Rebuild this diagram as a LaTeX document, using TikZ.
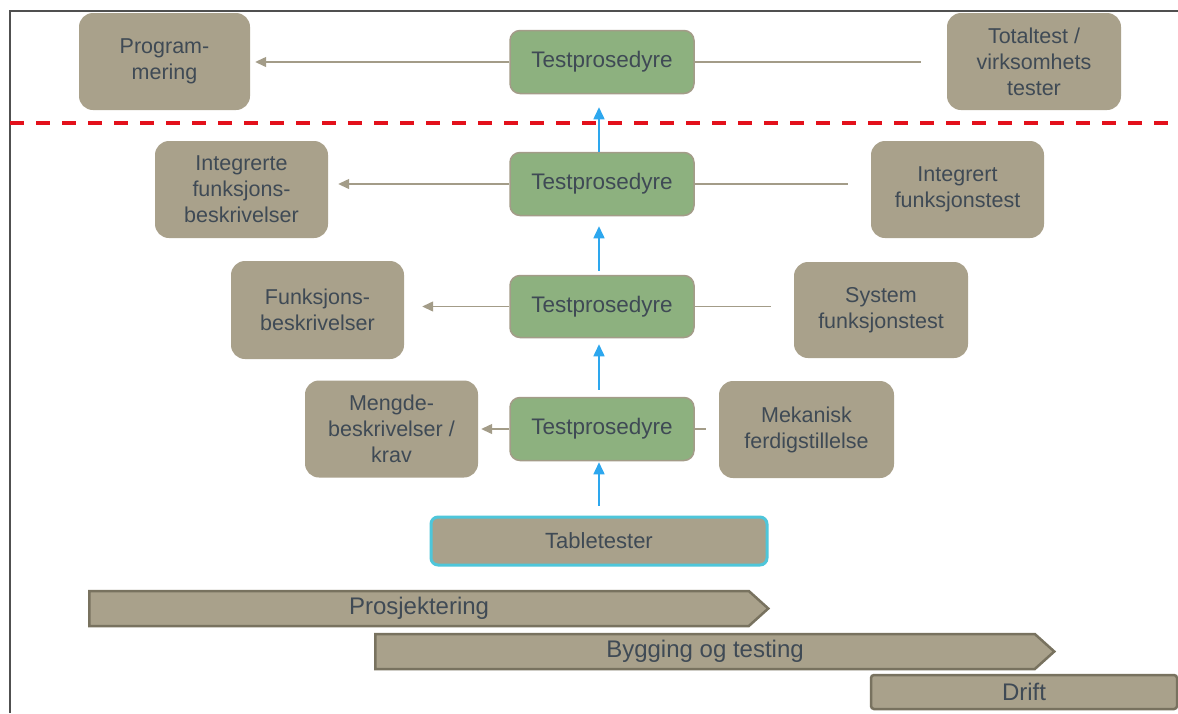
\documentclass[tikz,border=0pt]{standalone}
\usepackage{fontspec}
\setmainfont{Liberation Sans}
\usetikzlibrary{arrows.meta,shapes.symbols}
\definecolor{tanc}{HTML}{A9A18B}
\definecolor{tanline}{HTML}{A39C88}
\definecolor{barline}{HTML}{78725F}
\definecolor{greenc}{HTML}{8DB17F}
\definecolor{txtc}{HTML}{3F4A55}
\definecolor{bluec}{HTML}{2DA7EE}
\definecolor{cyanc}{HTML}{4EC6DA}
\definecolor{redc}{HTML}{E3101B}
\definecolor{framec}{HTML}{505050}
\begin{document}
\begin{tikzpicture}[x=1pt,y=-1pt,
  tanbox/.style={rectangle,rounded corners=14pt,fill=tanc,text=txtc,align=center,
    minimum width=173pt,minimum height=97pt,inner sep=2pt,
    font=\fontsize{21.5}{26}\selectfont},
  greenbox/.style={rectangle,rounded corners=10pt,fill=greenc,draw=tanline,line width=1.5pt,
    text=txtc,minimum width=184pt,minimum height=63pt,
    font=\fontsize{22.5}{26}\selectfont},
  tabbox/.style={rectangle,rounded corners=7pt,fill=tanc,draw=cyanc,line width=3pt,
    text=txtc,minimum width=336pt,minimum height=48pt,
    font=\fontsize{22}{26}\selectfont},
  barbox/.style={signal,signal to=east,signal pointer angle=84,fill=tanc,draw=barline,
    line width=2.5pt,text=txtc,minimum height=35pt,inner sep=0pt,anchor=west,
    font=\fontsize{24}{28}\selectfont},
  driftbox/.style={rectangle,rounded corners=3pt,fill=tanc,draw=barline,
    line width=2.5pt,text=txtc,minimum height=34pt,inner sep=0pt,
    font=\fontsize{24}{28}\selectfont},
  tanarrow/.style={draw=tanline,line width=1.3pt,-{Triangle[length=11pt,width=10pt]}},
  tanlink/.style={draw=tanline,line width=1.3pt},
  bluearrow/.style={draw=bluec,line width=1.5pt,-{Triangle[length=12pt,width=11pt]}}
]
\useasboundingbox (0,0) rectangle (1178,713);
\fill[white] (0,0) rectangle (1178,713);

% frame
\coordinate (fbl) at (10,713);
\coordinate (ftl) at (10,11);
\coordinate (ftr) at (1178,11);
\draw[framec,line width=1.6pt] (fbl) -- (ftl) -- (ftr);

% row 1
\node[tanbox,minimum width=171pt] (prog) at (164.5,61.5) {Program-\\mering};
\node[greenbox] (tp1) at (602,62) {Testprosedyre};
\node[tanbox,minimum width=174pt] (tot) at (1034,61.5) {Totaltest /\\virksomhets\\tester};

% row 2
\node[tanbox] (intb) at (241.5,189.5) {Integrerte\\funksjons-\\beskrivelser};
\node[greenbox] (tp2) at (602,184) {Testprosedyre};
\node[tanbox] (intt) at (957.5,189.5) {Integrert\\funksjonstest};

% row 3
\node[tanbox,minimum height=98pt] (fb) at (317.5,310) {Funksjons-\\beskrivelser};
\node[greenbox,minimum height=62pt] (tp3) at (602,306.5) {Testprosedyre};
\node[tanbox,minimum width=174pt,minimum height=96pt] (sys) at (881,310) {System\\funksjonstest};

% row 4
\node[tanbox] (meng) at (391.5,429) {Mengde-\\beskrivelser /\\krav};
\node[greenbox] (tp4) at (602,429) {Testprosedyre};
\node[tanbox,minimum width=175pt] (mek) at (806.5,429.5) {Mekanisk\\ferdigstillelse};

% tabletester
\node[tabbox] (tb) at (599,541) {Tabletester};

% horizontal connectors
\draw[tanlink,shorten <=26pt] (tot.west |- tp1.east) -- (tp1.east);
\draw[tanarrow,shorten >=5pt] (tp1.west) -- (prog.east |- tp1.west);
\draw[tanlink,shorten <=23pt] (intt.west |- tp2.east) -- (tp2.east);
\draw[tanarrow,shorten >=10pt] (tp2.west) -- (intb.east |- tp2.west);
\draw[tanlink,shorten <=23pt] (sys.west |- tp3.east) -- (tp3.east);
\draw[tanarrow,shorten >=18pt] (tp3.west) -- (fb.east |- tp3.west);
\draw[tanlink,shorten <=13pt] (mek.west |- tp4.east) -- (tp4.east);
\draw[tanarrow,shorten >=3pt] (tp4.west) -- (meng.east |- tp4.west);

% vertical blue arrows
\draw[bluearrow,shorten <=10pt,shorten >=1pt] (tb.north) -- (tb.north |- tp4.south);
\draw[bluearrow,shorten <=7pt,shorten >=6pt] (tb.north |- tp4.north) -- (tb.north |- tp3.south);
\draw[bluearrow,shorten <=4pt,shorten >=10pt] (tb.north |- tp3.north) -- (tb.north |- tp2.south);
\draw[bluearrow,shorten <=0pt,shorten >=13pt] (tb.north |- tp2.north) -- (tb.north |- tp1.south);

% red dashed line
\coordinate (rl) at (10,123);
\coordinate (rr) at (1178,123);
\draw[redc,line width=3.5pt,dash pattern=on 14pt off 12pt] (rl) -- (rr);

% phase bars
\node[barbox,minimum width=679pt] (pros) at (88,608.5) {Prosjektering};
\node[barbox,minimum width=679pt] (bygg) at (374,651.5) {Bygging og testing};
\node[driftbox,minimum width=306pt] (drift) at (1024,692) {Drift};
\end{tikzpicture}
\end{document}
